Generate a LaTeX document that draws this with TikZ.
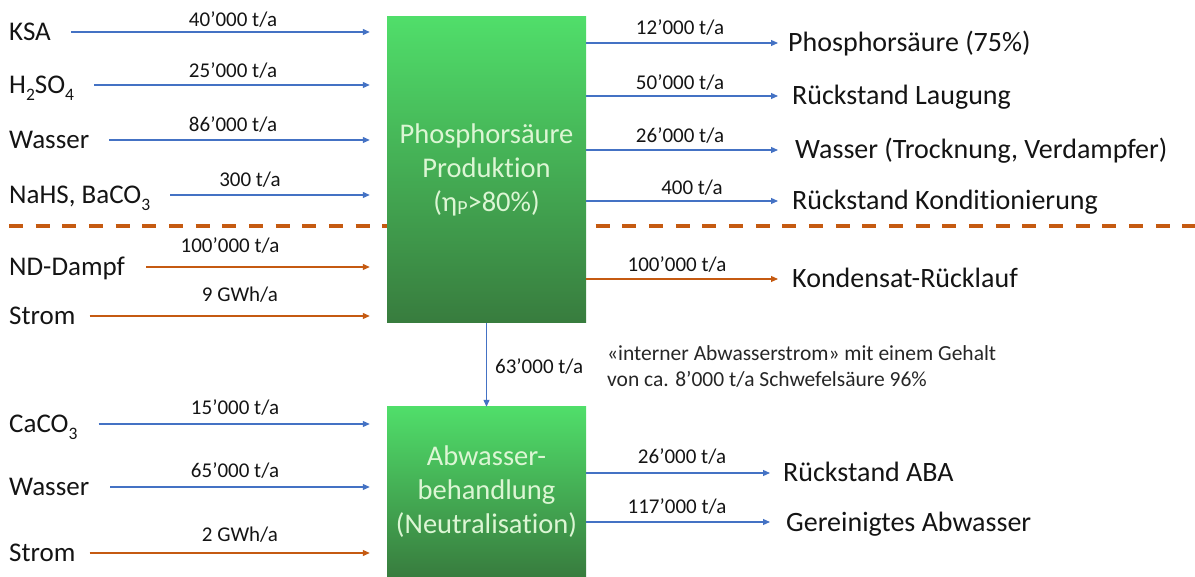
\documentclass[tikz,border=0pt]{standalone}
\usepackage{fontspec}
\setmainfont{Carlito}[Ligatures=NoCommon]
\usetikzlibrary{arrows.meta}

\definecolor{flowblue}{RGB}{68,114,196}
\definecolor{floworange}{RGB}{197,90,17}
\definecolor{boxtop}{RGB}{80,222,106}
\definecolor{boxbottom}{RGB}{56,124,62}
\definecolor{boxtext}{RGB}{220,246,212}
\definecolor{ink}{RGB}{20,20,20}
\definecolor{noteink}{RGB}{38,38,38}

% chemical subscripts in labels
\newcommand\chemsub[1]{\raisebox{-0.26em}{\fontsize{17.5}{17.5}\selectfont #1}}

\tikzset{
  stream/.style={text=ink, font=\fontsize{27}{32}\selectfont, inner sep=0pt,
    text height=17.4pt, text depth=0pt, anchor=west},
  product/.style={text=ink, font=\fontsize{28}{33}\selectfont, inner sep=0pt,
    text height=18pt, text depth=0pt, anchor=west},
  rate/.style={text=ink, font=\fontsize{21}{25}\selectfont, inner sep=0pt, anchor=base},
  unit/.style={draw=none, inner sep=0pt, top color=boxtop, bottom color=boxbottom,
    minimum width=199pt, text=boxtext, font=\fontsize{28.5}{34}\selectfont, align=center},
  bluearrow/.style={draw=flowblue, line width=1.1pt, -{Triangle[length=7pt,width=6pt]}},
  orangearrow/.style={draw=floworange, line width=1.1pt, -{Triangle[length=7pt,width=6pt]}},
  splitline/.style={draw=floworange, line width=4pt, dash pattern=on 14pt off 12.67pt},
}

\begin{document}
\begin{tikzpicture}[x=1pt, y=-1pt]
  \useasboundingbox (0,0) rectangle (1195,577);

  % boundary between material and energy streams
  \coordinate (dashL) at (9,226);
  \coordinate (dashR) at (1195,226);
  \draw[splitline] (dashL) -- (dashR);

  % process units
  \node[unit, minimum height=306pt] (p1) at (486.5,170)
    {Phosphorsäure\\Produktion\\(η\raisebox{-0.1em}{\fontsize{20}{20}\selectfont P}>80\%)};
  \node[unit, minimum height=170pt] (p2) at (486.5,492)
    {Abwasser-\\behandlung\\(Neutralisation)};

  % input streams
  \node[stream] (ksa) at (9,32) {KSA};
  \node[stream] (hso) at (9,85) {H\chemsub{2}SO\chemsub{4}};
  \node[stream] (wa1) at (9,140) {Wasser};
  \node[stream] (nah) at (9,195) {NaHS, BaCO\chemsub{3}};
  \node[stream] (nd)  at (9,267) {ND-Dampf};
  \node[stream] (st1) at (9,316) {Strom};
  \node[stream] (cac) at (9,424) {CaCO\chemsub{3}};
  \node[stream] (wa2) at (9,487) {Wasser};
  \node[stream] (st2) at (9,553) {Strom};

  \draw[bluearrow, shorten <=20pt, shorten >=17pt] (ksa.east) -- (p1.west |- ksa.east);
  \draw[bluearrow, shorten <=20pt, shorten >=17pt] (hso.east) -- (p1.west |- hso.east);
  \draw[bluearrow, shorten <=20pt, shorten >=17pt] (wa1.east) -- (p1.west |- wa1.east);
  \draw[bluearrow, shorten <=20pt, shorten >=17pt] (nah.east) -- (p1.west |- nah.east);
  \draw[orangearrow, shorten <=21pt, shorten >=17pt] (nd.east) -- (p1.west |- nd.east);
  \draw[orangearrow, shorten <=14pt, shorten >=17pt] (st1.east) -- (p1.west |- st1.east);
  \draw[bluearrow, shorten <=21pt, shorten >=17pt] (cac.east) -- (p2.west |- cac.east);
  \draw[bluearrow, shorten <=21pt, shorten >=17pt] (wa2.east) -- (p2.west |- wa2.east);
  \draw[orangearrow, shorten <=14pt, shorten >=17pt] (st2.east) -- (p2.west |- st2.east);

  \node[rate] (r1) at (233,27)  {40’000 t/a};
  \node[rate] (r2) at (233,78)  {25’000 t/a};
  \node[rate] (r3) at (233,132) {86’000 t/a};
  \node[rate] (r4) at (250,187) {300 t/a};
  \node[rate] (r5) at (230,253) {100’000 t/a};
  \node[rate] (r6) at (240,302) {9 GWh/a};
  \node[rate] (r7) at (235,415) {15’000 t/a};
  \node[rate] (r8) at (235,478) {65’000 t/a};
  \node[rate] (r9) at (240,541) {2 GWh/a};

  % output streams
  \node[product] (o1) at (788,43)  {Phosphorsäure (75\%)};
  \node[product] (o2) at (792,96)  {Rückstand Laugung};
  \node[product] (o3) at (795,150) {Wasser (Trocknung, Verdampfer)};
  \node[product] (o4) at (792,201) {Rückstand Konditionierung};
  \node[product] (o5) at (792,279) {Kondensat-Rücklauf};
  \node[product] (o6) at (783,473) {Rückstand ABA};
  \node[product] (o7) at (786,522) {Gereinigtes Abwasser};

  \draw[bluearrow, shorten >=10pt] (p1.east |- o1.west) -- (o1.west);
  \draw[bluearrow, shorten >=14pt] (p1.east |- o2.west) -- (o2.west);
  \draw[bluearrow, shorten >=17pt] (p1.east |- o3.west) -- (o3.west);
  \draw[bluearrow, shorten >=14pt] (p1.east |- o4.west) -- (o4.west);
  \draw[orangearrow, shorten >=14pt] (p1.east |- o5.west) -- (o5.west);
  \draw[bluearrow, shorten >=13pt] (p2.east |- o6.west) -- (o6.west);
  \draw[bluearrow, shorten >=16pt] (p2.east |- o7.west) -- (o7.west);

  \node[rate] (q1) at (680,35)  {12’000 t/a};
  \node[rate] (q2) at (680,90)  {50’000 t/a};
  \node[rate] (q3) at (680,143) {26’000 t/a};
  \node[rate] (q4) at (692,195) {400 t/a};
  \node[rate] (q5) at (677,272) {100’000 t/a};
  \node[rate] (q6) at (682,463) {26’000 t/a};
  \node[rate] (q7) at (677,513) {117’000 t/a};

  % internal waste water stream
  \draw[bluearrow] (p1.south) -- (p2.north);
  \node[rate, anchor=base west] (q8) at (495,374) {63’000 t/a};
  \node[text=noteink, font=\fontsize{21.5}{26}\selectfont, inner sep=0pt,
        anchor=base west, align=left] (note) at (607,387)
    {«interner Abwasserstrom» mit einem Gehalt\\von ca. 8’000 t/a Schwefelsäure 96\%};
\end{tikzpicture}
\end{document}
